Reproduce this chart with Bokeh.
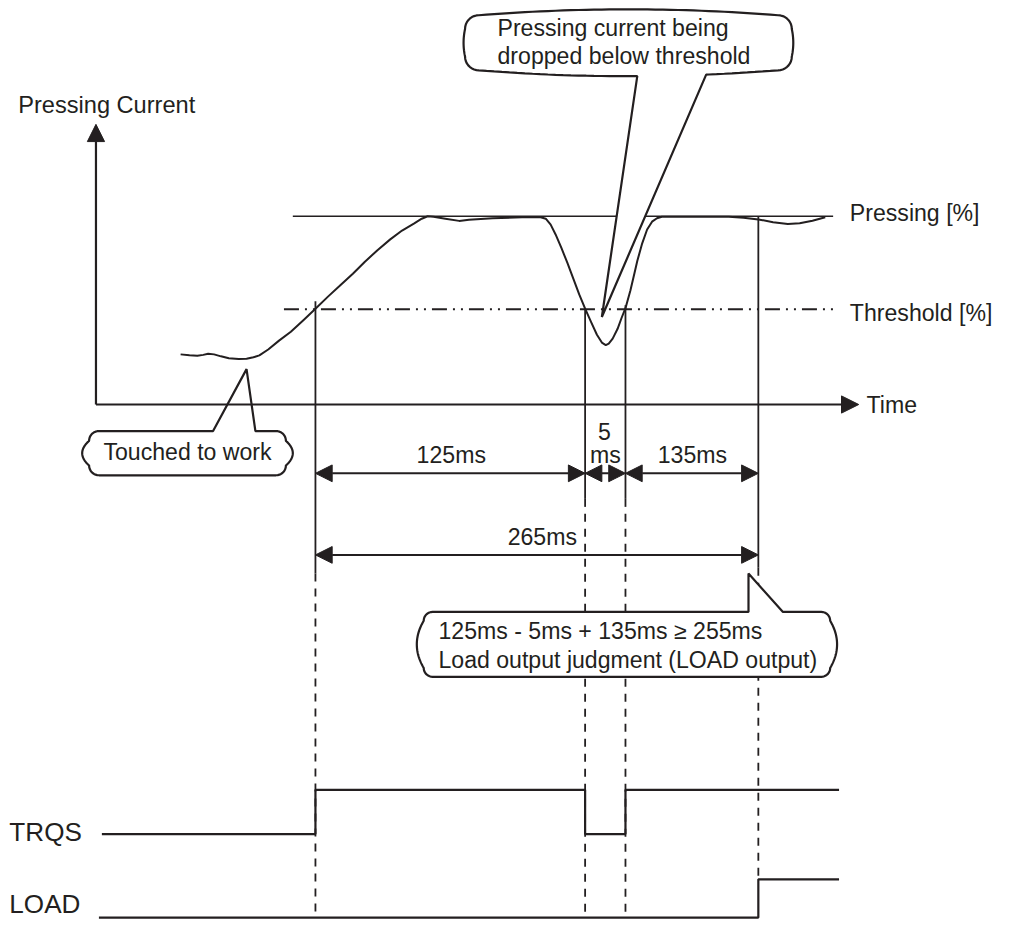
import numpy as np
from bokeh.plotting import figure
from bokeh.models import Range1d, Arrow, NormalHead
from bokeh.core.properties import value
from bokeh.embed import file_html
from bokeh.resources import INLINE

INK = "#231f20"
FONT = "Liberation Sans"

# ---------------- data (drawing units, y grows downward) ----------------
# pressing-current waveform
curve_x = [183, 192, 200, 206, 211, 217, 224, 232, 242, 250, 257, 263,
           272, 283, 295, 308, 320, 333, 345, 358, 370, 383, 396, 408, 420, 428, 434,
           440, 452, 466, 476, 500, 530, 548,
           554, 559, 564, 570, 576, 582, 588, 594, 600, 606, 611, 615,
           618, 622, 627, 631, 635, 640, 644, 647, 652, 657, 662, 667, 672,
           700, 740, 755, 770, 785, 800, 812, 825, 838]
curve_y = [360, 361, 361.5, 360.5, 359.3, 360, 362, 364, 364.7, 364.5, 363, 361,
           355, 346, 337, 325, 313.5, 301, 290, 278, 266, 254, 243, 234, 227, 222, 219.5,
           220, 222, 224.2, 223, 221.5, 220.5, 220.2,
           222, 228, 238, 252, 267, 283, 299, 313.5, 327, 340, 348, 350.5,
           349, 344, 334, 323, 313, 295, 278, 265, 247, 233, 225, 221.5, 220,
           220, 220, 221, 222.7, 225.5, 227.3, 226.5, 224, 220.5]

pressing_y = 219.5
pressing_span = [297, 846]
threshold_y = 314
threshold_span = [288, 850]

# axes
origin = [97, 411]
y_axis_tip = 126
time_axis_tip = 872

# event instants: threshold reached, drop below threshold, recovery, LOAD judgment
event_x = [320, 594, 635, 770]
event_solid_top = [306, 313, 310, 220]
event_solid_bottom = [583, 507, 507, 577]
event_dash_bottom = [933, 933, 933, 894]

# dimension arrows
dim_y = [481, 481, 481, 564]
dim_start = [320, 594, 635, 320]
dim_end = [594, 635, 770, 770]

# timing signals
trqs_x = [103, 320, 594, 635, 852]
trqs_state = [0, 1, 0, 1, 1]
trqs_levels = [848, 803]
load_x = [100, 770, 852]
load_state = [0, 1, 1]
load_levels = [933, 894]

# texts (baseline positions)
left_text = ["Pressing [%]", "Threshold [%]", "Time",
             "Pressing current being", "dropped below threshold",
             "125ms - 5ms + 135ms \u2265 255ms", "Load output judgment (LOAD output)"]
left_x = [863, 863, 880, 505, 505, 445, 445]
left_y = [216, 318, 411, 28, 56, 641, 671]

center_text = ["Touched to work", "125ms", "5", "ms", "135ms", "265ms"]
center_x = [190, 458, 613.5, 614.5, 703, 550.5]
center_y = [459, 462, 438, 462, 462, 546]

title_text = ["Pressing Current"]
title_x = [18]
title_y = [106]

signal_text = ["TRQS", "LOAD"]
signal_x = [9, 9]
signal_y = [846, 919]

# callouts: box (x0, x1, y0, y1), corner r, side bulge, top/bottom bulge, pointer base, tip, edge
callouts = [
    dict(box=(90, 290, 438, 483), r=10, bx=7, by=0, base=(216, 259), tip=(250, 375), edge="top"),
    dict(box=(472, 804, 15, 71), r=14, bx=1.5, by=6, base=(647, 717), tip=(611, 322), edge="bottom"),
    dict(box=(430, 843, 622, 688), r=9, bx=7, by=0, base=(760, 795), tip=(760, 583), edge="top"),
]

# drawing extent of the whole sheet
SHEET_W, SHEET_H = 1013, 940
FIG_W, FIG_H = 997, 924
K = FIG_W / SHEET_W  # screen px per drawing unit


def px(v):
    return f"{v * K:.1f}px"


def callout_outline(box, r, bx, by, base, tip, edge):
    x0, x1, y0, y1 = box
    n = 40

    def seg(p0, p1, bul):
        t = np.linspace(0, 1, n)
        xs = p0[0] + (p1[0] - p0[0]) * t + bul[0] * 4 * t * (1 - t)
        ys = p0[1] + (p1[1] - p0[1]) * t + bul[1] * 4 * t * (1 - t)
        return list(xs), list(ys)

    def arc(cx, cy, a0, a1):
        a = np.linspace(a0, a1, 10)
        return list(cx + r * np.cos(a)), list(cy + r * np.sin(a))

    top = seg((x0 + r, y0), (x1 - r, y0), (0, -by))
    bottom = seg((x1 - r, y1), (x0 + r, y1), (0, by))
    bl, br = base
    if edge == "top":
        xs, ys = top
        yl = float(np.interp(bl, xs, ys))
        yr = float(np.interp(br, xs, ys))
        nx = [x for x in xs if x < bl] + [bl, tip[0], br] + [x for x in xs if x > br]
        ny = [y for x, y in zip(xs, ys) if x < bl] + [yl, tip[1], yr] + [y for x, y in zip(xs, ys) if x > br]
        top = (nx, ny)
    else:
        xs, ys = bottom
        yl = float(np.interp(bl, xs[::-1], ys[::-1]))
        yr = float(np.interp(br, xs[::-1], ys[::-1]))
        nx = [x for x in xs if x > br] + [br, tip[0], bl] + [x for x in xs if x < bl]
        ny = [y for x, y in zip(xs, ys) if x > br] + [yr, tip[1], yl] + [y for x, y in zip(xs, ys) if x < bl]
        bottom = (nx, ny)
    parts = [top,
             arc(x1 - r, y0 + r, -np.pi / 2, 0),
             seg((x1, y0 + r), (x1, y1 - r), (bx, 0)),
             arc(x1 - r, y1 - r, 0, np.pi / 2),
             bottom,
             arc(x0 + r, y1 - r, np.pi / 2, np.pi),
             seg((x0, y1 - r), (x0, y0 + r), (-bx, 0)),
             arc(x0 + r, y0 + r, np.pi, 1.5 * np.pi)]
    X, Y = [], []
    for px_, py_ in parts:
        X += px_
        Y += py_
    return X, Y


# ---------------- figure ----------------
p = figure(width=FIG_W, height=FIG_H, x_range=Range1d(0, SHEET_W), y_range=Range1d(SHEET_H, 0),
           output_backend="svg", toolbar_location=None, x_axis_type=None, y_axis_type=None,
           min_border=0, min_border_left=0, min_border_right=0, min_border_top=0, min_border_bottom=0)
p.grid.visible = False
p.outline_line_color = None
p.background_fill_color = "white"
p.border_fill_color = "white"

# reference levels
p.line(pressing_span, [pressing_y, pressing_y], line_color=INK, line_width=1.6)
p.line(threshold_span, [threshold_y, threshold_y], line_color=INK, line_width=2,
       line_dash="15 6 2 6 2 6")

# event lines (solid part + dashed continuation)
p.segment(x0=event_x, y0=event_solid_top, x1=event_x, y1=event_solid_bottom,
          line_color=INK, line_width=1.8)
p.segment(x0=event_x, y0=event_solid_bottom, x1=event_x, y1=event_dash_bottom,
          line_color=INK, line_width=1.8, line_dash="8 7")

# axes with arrow heads
HEAD = 17.5 * K
p.add_layout(Arrow(end=NormalHead(size=HEAD, fill_color=INK, line_color=INK, line_width=1),
                   x_start=origin[0], y_start=origin[1], x_end=origin[0], y_end=y_axis_tip,
                   line_color=INK, line_width=2.2))
p.add_layout(Arrow(end=NormalHead(size=HEAD, fill_color=INK, line_color=INK, line_width=1),
                   x_start=origin[0], y_start=origin[1], x_end=time_axis_tip, y_end=origin[1],
                   line_color=INK, line_width=2.2))

# waveform
p.line(curve_x, curve_y, line_color=INK, line_width=2, line_join="round")

# dimension arrows
for xs_, xe_, yy in zip(dim_start, dim_end, dim_y):
    p.add_layout(Arrow(start=NormalHead(size=17 * K, fill_color=INK, line_color=INK, line_width=1),
                       end=NormalHead(size=17 * K, fill_color=INK, line_color=INK, line_width=1),
                       x_start=xs_, y_start=yy, x_end=xe_, y_end=yy,
                       line_color=INK, line_width=2))

# timing signals
p.step(trqs_x, [trqs_levels[s] for s in trqs_state], mode="after", line_color=INK, line_width=2.2)
p.step(load_x, [load_levels[s] for s in load_state], mode="after", line_color=INK, line_width=2.2)

# callouts
for c in callouts:
    X, Y = callout_outline(c["box"], c["r"], c["bx"], c["by"], c["base"], c["tip"], c["edge"])
    p.patch(X, Y, fill_color="white", line_color=INK, line_width=2.2)

# texts
p.text(x=left_x, y=left_y, text=left_text, text_font=value(FONT), text_font_size=px(23.5),
       text_align="left", text_baseline="alphabetic", text_color=INK)
p.text(x=center_x, y=center_y, text=center_text, text_font=value(FONT), text_font_size=px(23.5),
       text_align="center", text_baseline="alphabetic", text_color=INK)
p.text(x=title_x, y=title_y, text=title_text, text_font=value(FONT), text_font_size=px(24),
       text_align="left", text_baseline="alphabetic", text_color=INK)
p.text(x=signal_x, y=signal_y, text=signal_text, text_font=value(FONT), text_font_size=px(26.5),
       text_align="left", text_baseline="alphabetic", text_color=INK)

open("out.html", "w").write(file_html(p, INLINE))
